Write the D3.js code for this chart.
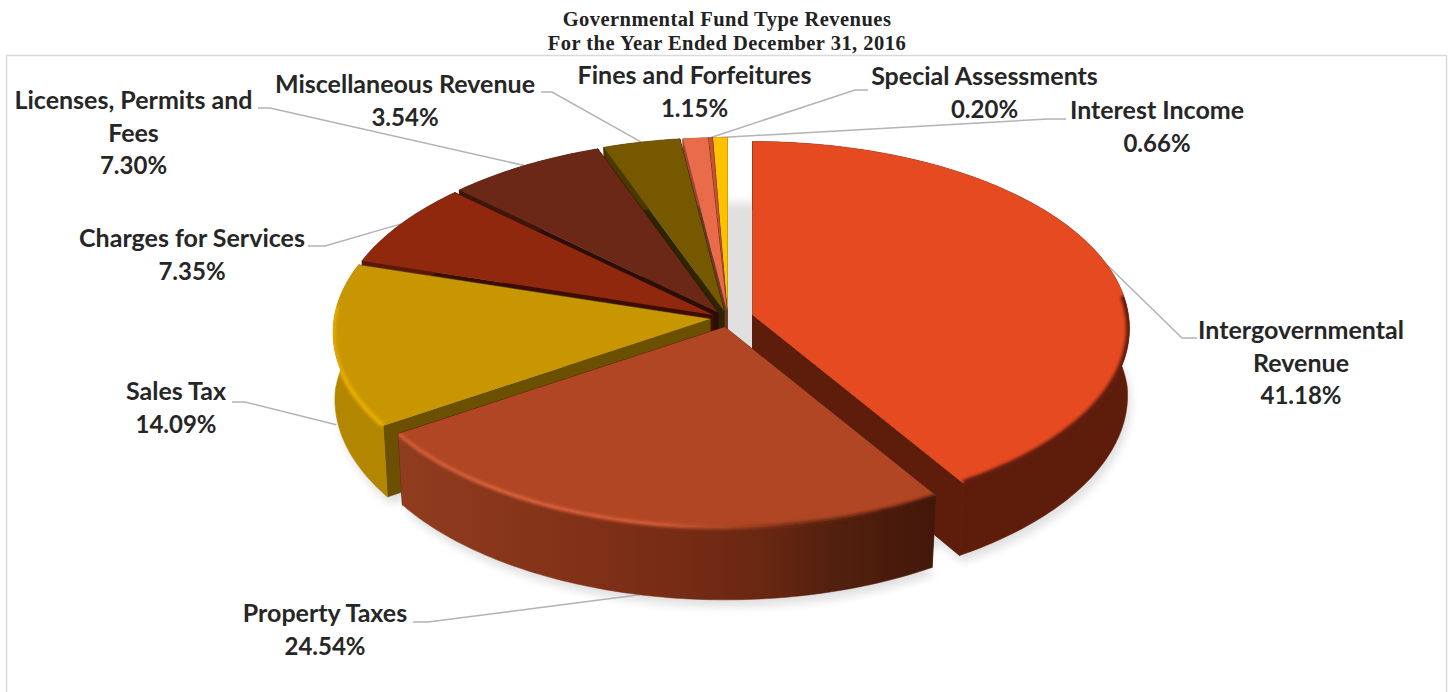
<!DOCTYPE html>
<html>
<head>
<meta charset="utf-8">
<script src="https://cdn.jsdelivr.net/npm/d3@7"></script>
<style>
html,body{margin:0;padding:0;background:#fff;}
svg{display:block;}
</style>
</head>
<body>
<svg id="chart" width="1448" height="692"></svg>
<script>
// Revenue shares, clockwise from twelve o'clock
const categories = ["Intergovernmental Revenue","Property Taxes","Sales Tax","Charges for Services",
  "Licenses, Permits and Fees","Miscellaneous Revenue","Fines and Forfeitures","Special Assessments","Interest Income"];
const shares = [41.18,24.54,14.09,7.35,7.30,3.54,1.15,0.20,0.66];

// Wrapped label text per slice
const labelLines = [["Intergovernmental","Revenue"],["Property Taxes"],["Sales Tax"],["Charges for Services"],
  ["Licenses, Permits and","Fees"],["Miscellaneous Revenue"],["Fines and Forfeitures"],["Special Assessments"],["Interest Income"]];

// Slice styling
const topColors  = ["#E64A21","#B04624","#C79600","#8F280D","#6C2816","#765800","#EA6B4A","#C9512F","#FFC000"];
const sideColors = ["#5E1D0B","url(#propertySide)","#B38600","#5A1806","#3F170A","#4A3800","#9A4630","#7C3320","#A67C00"];
const wallColors = ["#5E1D0B","#5A2210","#6A5000","#3C0E02","#2B0F07","#2E2500","#6E3A24","#6E3A24","#A67C00"];
const bevelColors = ["#5E1D0B","url(#propertyBevel)","#E8AE00",null,null,null,null,null,null];
const bevelWidths = [7,3.5,4.5,0,0,0,0,0,0];
// Angular span of the lit rim, degrees
const bevelSpans = [[84,148.2],null,[236.7,274],null,null,null,null,null,null];

// How far each slice is pulled out of the pie, px on screen
const pullX = [25.5,-2,-17,-13.5,-9,-3,0,0,0.5];
const pullY = [4,16,8,4,1.5,0,0,0,0];

// Label placement: centre x, first baseline, leader elbow and the side of the rim it meets
const labelX = [1301,325,176,192,133.5,405,694.5,984.5,1157];
const labelY = [339,622,400,247,109,93,84,85,119];
const leaderFromX = [1197,413,232,308,258,541,null,868,1066];
const leaderElbowX = [1182,428,245,325,270,552,null,855,1048];
const leaderY = [338,622,402,246,108,92,null,90,119];
const leaderOnFloor = [false,true,true,false,false,false,false,false,false];
const leaderDrop = [0,0,9,0,0,0,0,0,0];

const width = 1448, height = 692;
const centerX = 727, centerY = 311;
const depth = 70, perspective = 0.072;
const radiusX = d3.scaleLinear().domain([-1,1]).range([-376,376]);
const radiusY = d3.scaleLinear().domain([-1,1]).range([-186,186]);

const svg = d3.select("#chart");
const defs = svg.append("defs");

const grad = (id, stops) => {
  const g = defs.append("linearGradient").attr("id",id).attr("gradientUnits","userSpaceOnUse")
    .attr("x1",400).attr("x2",932).attr("y1",0).attr("y2",0);
  stops.forEach(([o,c]) => g.append("stop").attr("offset",o).attr("stop-color",c));
};
grad("propertySide",[[0,"#8F3C1F"],[0.25,"#863419"],[0.5,"#782C15"],[0.68,"#6A2712"],[0.82,"#52200E"],[1,"#43170A"]]);
grad("propertyBevel",[[0,"#D8603A"],[0.2,"#E0653E"],[0.5,"#D65C36"],[0.62,"#A8431F"],[0.74,"#6E2A14"],[1,"#48190B"]]);

defs.append("filter").attr("id","softShadow").attr("x","-10%").attr("y","-10%").attr("width","120%").attr("height","120%")
  .append("feGaussianBlur").attr("stdDeviation",4);
defs.append("filter").attr("id","softEdge").attr("x","-10%").attr("y","-10%").attr("width","120%").attr("height","120%")
  .append("feGaussianBlur").attr("stdDeviation",1.6);

const pie = d3.pie().sort(null).value(d => d)(shares);
const slices = pie.map((p,i) => ({...p, i, ox: centerX + pullX[i], oy: centerY + pullY[i]}));

// Perspective projection of a point on the unit disc, on the top face or the floor
function rimPoint(angle, r, slice, onFloor) {
  const u = Math.sin(angle) * r, v = -Math.cos(angle) * r;
  const s = 1 / (1 - perspective * v);
  const fx = onFloor ? 1 - 0.004 - 0.016 * Math.abs(v) : 1;
  const fy = onFloor ? 0.985 : 1;
  return [slice.ox + radiusX(u) * s * fx, slice.oy + radiusY(v) * s * fy + (onFloor ? depth * s : 0)];
}
const arcPoints = (a0, a1, slice, onFloor) => {
  const n = Math.max(2, Math.ceil((a1 - a0) * 60));
  return d3.range(n + 1).map(k => rimPoint(a0 + (a1 - a0) * k / n, 1, slice, onFloor));
};
const line = d3.line();
const closed = pts => line(pts) + "Z";

// Soft ground shadow below the whole pie and each pulled slice
const shadow = svg.append("g").attr("filter","url(#softShadow)").attr("fill","#E0E0E0");
const whole = {ox: centerX, oy: centerY - 3};
shadow.append("path").attr("d", closed(arcPoints(0, 2 * Math.PI, whole, true)));
slices.forEach(s => {
  const shifted = {ox: s.ox + 3, oy: s.oy + 7};
  shadow.append("path").attr("d", closed([rimPoint(0,0,shifted,true), ...arcPoints(s.startAngle, s.endAngle, shifted, true)]));
});

// Chart frame, open at the bottom
svg.append("path").attr("d",`M6.5 ${height}V55.5H1446.5V${height}`)
  .attr("fill","none").attr("stroke","#D9D9D9").attr("stroke-width",1.5);

// Leader lines sit behind the pie
const leaders = svg.append("g").attr("fill","none").attr("stroke","#B2B2B8").attr("stroke-width",1.5);
slices.forEach(s => {
  if (leaderFromX[s.i] === null) return;
  const mid = (s.startAngle + s.endAngle) / 2;
  const tip = rimPoint(mid, 1, s, leaderOnFloor[s.i]);
  tip[1] += leaderDrop[s.i];
  leaders.append("path").attr("d", line([[leaderFromX[s.i],leaderY[s.i]],[leaderElbowX[s.i],leaderY[s.i]],tip]));
});

// Painter's order: far slices first, the front slice last
const paintOrder = [8,7,6,5,4,3,2,0,1];
const body = svg.append("g");
paintOrder.forEach(i => {
  const s = slices[i];
  const apexTop = rimPoint(0,0,s,false), apexFloor = rimPoint(0,0,s,true);
  const g = body.append("g").attr("class","slice").attr("data-name",categories[i]);
  const topArc = arcPoints(s.startAngle, s.endAngle, s, false);
  const floorArc = arcPoints(s.startAngle, s.endAngle, s, true);
  const wallAt = (a) => closed([apexTop, rimPoint(a,1,s,false), rimPoint(a,1,s,true), apexFloor]);
  const drawEndWall = () => g.append("path").attr("d", wallAt(s.endAngle))
    .attr("fill", wallColors[i]).attr("stroke", wallColors[i]).attr("stroke-width",1);
  // A wall faces the viewer only on the right half, where it must join the side without a seam
  const endWallFront = s.endAngle < Math.PI;
  if (!endWallFront) drawEndWall();
  g.append("path").attr("d", wallAt(s.startAngle)).attr("fill", wallColors[i]).attr("stroke", wallColors[i]).attr("stroke-width",0.5);
  const sidePath = closed([...topArc, ...floorArc.slice().reverse()]);
  g.append("path").attr("d", sidePath).attr("fill", sideColors[i]).attr("stroke", sideColors[i]).attr("stroke-width",0.5);
  if (endWallFront) drawEndWall();
  const topPath = closed([apexTop, ...topArc]);
  g.append("path").attr("d", topPath).attr("fill", topColors[i]);
  if (bevelColors[i]) {
    const clipId = "rimClip" + i;
    const clip = defs.append("clipPath").attr("id", clipId);
    clip.append("path").attr("d", topPath);
    clip.append("path").attr("d", sidePath);
    const span = bevelSpans[i];
    const a0 = span ? span[0] * Math.PI / 180 : s.startAngle;
    const a1 = span ? span[1] * Math.PI / 180 : s.endAngle;
    g.append("g").attr("clip-path",`url(#${clipId})`)
      .append("path").attr("d", line(arcPoints(a0, a1, s, false)))
      .attr("fill","none").attr("stroke", bevelColors[i]).attr("stroke-width",bevelWidths[i])
      .attr("filter","url(#softEdge)");
  }
  if (i === 7) {
    g.append("path").attr("d", line([apexTop, rimPoint(s.startAngle,1,s,false)]))
      .attr("fill","none").attr("stroke","#7A3520").attr("stroke-width",1).attr("stroke-dasharray","4 2");
  }
});

// Titles
const titles = ["Governmental Fund Type Revenues","For the Year Ended December 31, 2016"];
svg.append("g").selectAll("text").data(titles).join("text")
  .attr("x",727).attr("y",(d,i)=>26+i*23.5)
  .attr("text-anchor","middle")
  .attr("font-family","'Liberation Serif',serif").attr("font-weight",700).attr("font-size",20.5)
  .attr("letter-spacing",0.47)
  .attr("fill","#222").text(d=>d);

// Labels: name lines followed by the formatted share
const fmt = d3.format(".2f");
const labels = svg.append("g").attr("font-family","Lato,'Open Sans',sans-serif").attr("font-weight",700)
  .attr("fill","#262626").attr("text-anchor","middle");
slices.forEach(s => {
  const names = labelLines[s.i];
  names.forEach((t,k) => labels.append("text").attr("x",labelX[s.i]).attr("y",labelY[s.i]+k*32.5).attr("font-size",25).text(t));
  labels.append("text").attr("x",labelX[s.i]).attr("y",labelY[s.i]+names.length*32.5).attr("font-size",24).text(fmt(shares[s.i]) + "%");
});
</script>
</body>
</html>
